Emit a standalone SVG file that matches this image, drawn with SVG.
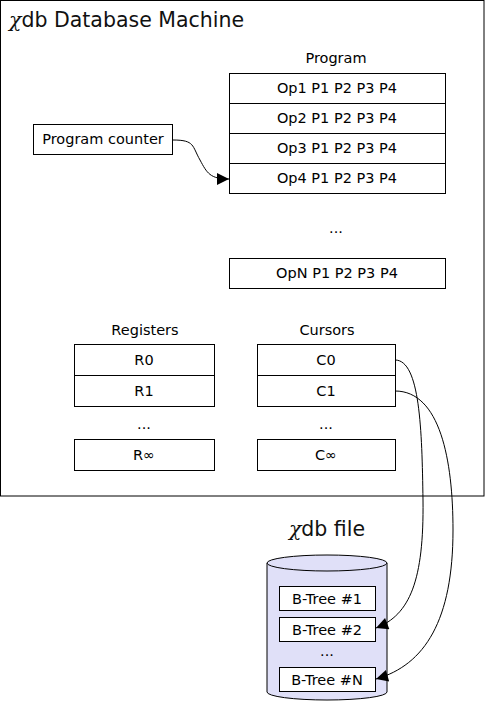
<svg xmlns="http://www.w3.org/2000/svg" width="485" height="705" viewBox="0 0 485 705">
<defs>
<style>
.t{font-family:"DejaVu Sans","Liberation Sans",sans-serif;font-size:14.5px;fill:#000;text-anchor:middle}
.b{fill:#fff;stroke:#000;stroke-width:1}
.c{fill:none;stroke:#000;stroke-width:1}
.g{font-family:"DejaVu Sans","Liberation Sans",sans-serif;font-size:20.5px;fill:#111}
</style>
<marker id="ah" viewBox="0 0 10 10" refX="10" refY="5" markerWidth="18" markerHeight="12" markerUnits="userSpaceOnUse" orient="auto">
<path d="M0,0 L10,5 L0,10 Z" fill="#000"/>
</marker>
</defs>
<rect width="485" height="705" fill="#fff"/>
<g id="machine">
<rect x="0.5" y="0.5" width="483.5" height="495.5" fill="#fff" stroke="#000"/>
<text class="g" x="9" y="27"><tspan font-family="DejaVu Serif" font-style="italic">χ</tspan>db Database Machine</text>
</g>
<g id="program">
<text class="t" x="336" y="63">Program</text>
<rect class="b" x="229.5" y="73.5" width="216" height="30"/>
<rect class="b" x="229.5" y="103.5" width="216" height="30"/>
<rect class="b" x="229.5" y="133.5" width="216" height="30"/>
<rect class="b" x="229.5" y="163.5" width="216" height="30"/>
<text class="t" x="337" y="93">Op1 P1 P2 P3 P4</text>
<text class="t" x="337" y="123">Op2 P1 P2 P3 P4</text>
<text class="t" x="337" y="153">Op3 P1 P2 P3 P4</text>
<text class="t" x="337" y="183">Op4 P1 P2 P3 P4</text>
<text class="t" x="336" y="233">...</text>
<rect class="b" x="229.5" y="258.5" width="216" height="30"/>
<text class="t" x="337" y="278">OpN P1 P2 P3 P4</text>
</g>
<g id="pc">
<rect class="b" x="33.5" y="124.5" width="139" height="30"/>
<text class="t" x="103" y="144">Program counter</text>
</g>
<g id="registers">
<text class="t" x="145" y="335">Registers</text>
<rect class="b" x="74.5" y="344.5" width="140" height="31"/>
<rect class="b" x="74.5" y="375.5" width="140" height="31"/>
<text class="t" x="144" y="365">R0</text>
<text class="t" x="144" y="396">R1</text>
<text class="t" x="144" y="429">...</text>
<rect class="b" x="74.5" y="439.5" width="140" height="31"/>
<text class="t" x="144" y="460">R∞</text>
</g>
<g id="cursors">
<text class="t" x="327" y="335">Cursors</text>
<rect class="b" x="257.5" y="344.5" width="138" height="31"/>
<rect class="b" x="257.5" y="375.5" width="138" height="31"/>
<text class="t" x="326" y="365">C0</text>
<text class="t" x="326" y="396">C1</text>
<text class="t" x="326" y="429">...</text>
<rect class="b" x="257.5" y="439.5" width="138" height="31"/>
<text class="t" x="326" y="460">C∞</text>
</g>
<g id="dbfile">
<text class="g" x="327" y="536" text-anchor="middle"><tspan font-family="DejaVu Serif" font-style="italic">χ</tspan>db file</text>
<path d="M267,563 L267,692 A60,8 0 0 0 387,692 L387,563" fill="#e0e0f8" stroke="#000"/>
<ellipse cx="327" cy="563" rx="60" ry="8" fill="#e0e0f8" stroke="#000"/>
<rect class="b" x="279.5" y="586.5" width="96" height="24"/>
<text class="t" x="327" y="603.5">B-Tree #1</text>
<rect class="b" x="279.5" y="617.5" width="96" height="24"/>
<text class="t" x="327" y="634.5">B-Tree #2</text>
<text class="t" x="327" y="656">...</text>
<rect class="b" x="279.5" y="667.5" width="96" height="24"/>
<text class="t" x="327" y="684.5">B-Tree #N</text>
</g>
<g id="connectors">
<path class="c" d="M173,140 C195,140 192,146 200,160 C207,173 210,179 229,179" marker-end="url(#ah)"/>
<path class="c" d="M395,360 C420,360 422,430 423,500 C424,580 410,615 376,628" marker-end="url(#ah)"/>
<path class="c" d="M395,391 C440,391 453,460 453,530 C453,620 425,665 376,679" marker-end="url(#ah)"/>
</g>
</svg>
